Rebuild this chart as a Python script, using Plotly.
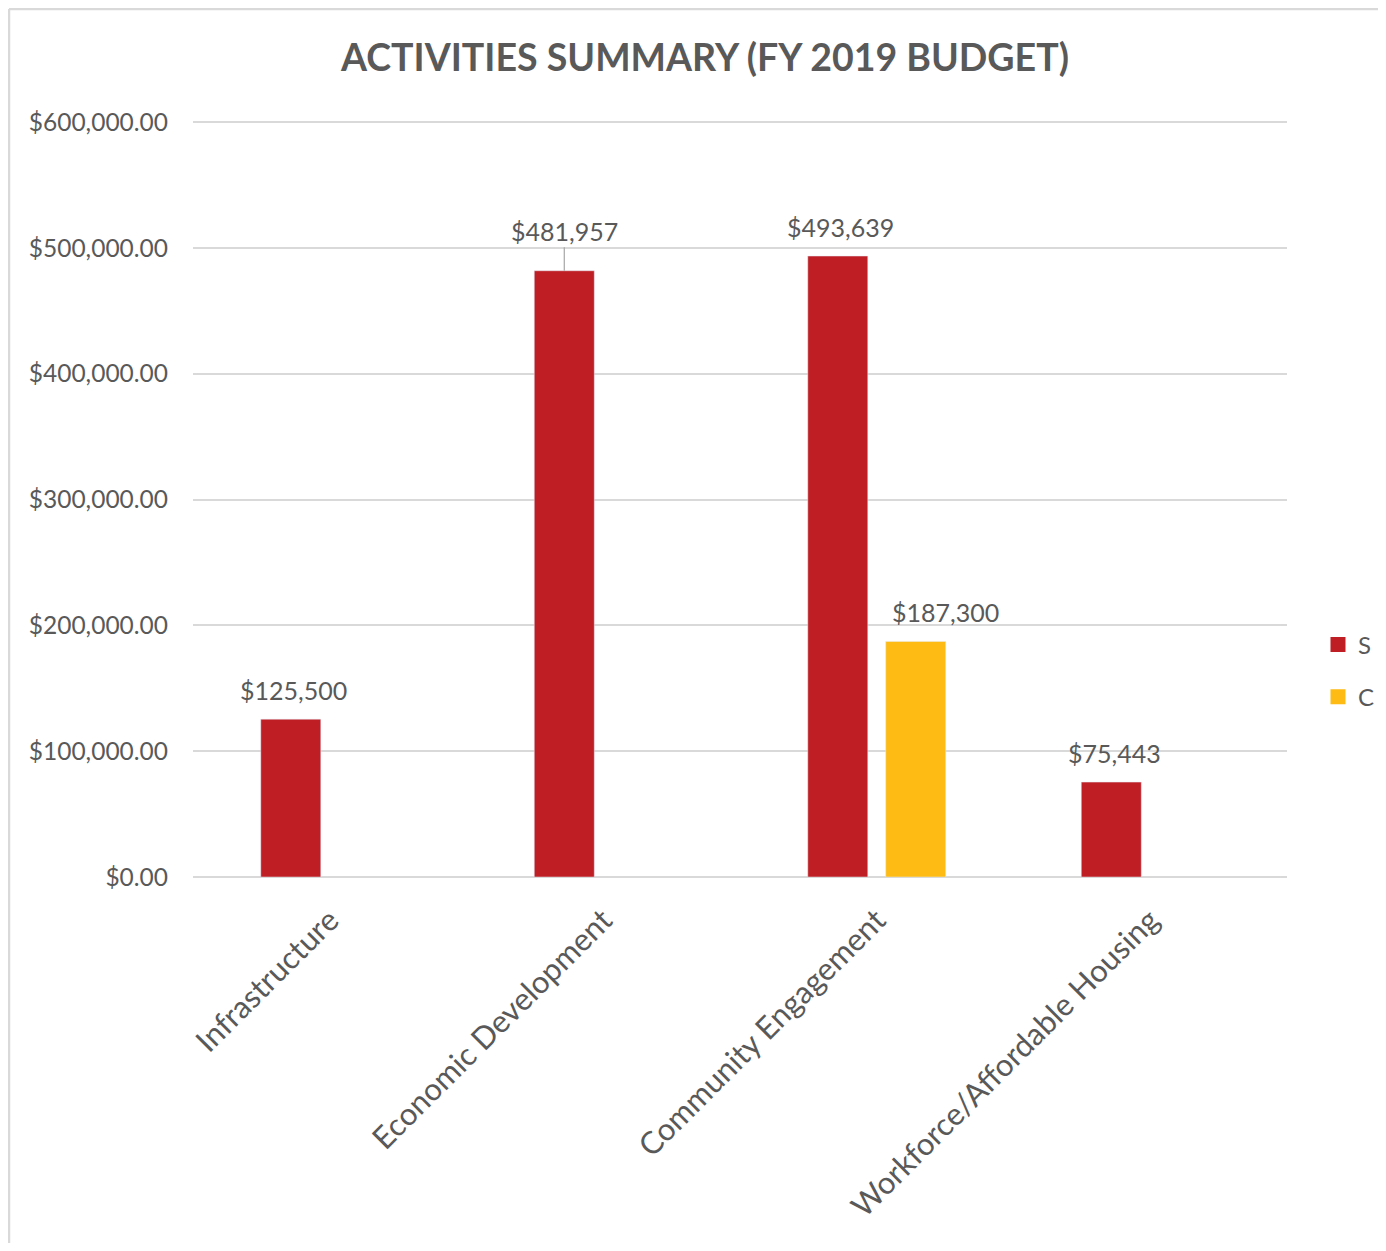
import plotly.graph_objects as go

categories = ["Infrastructure", "Economic Development", "Community Engagement", "Workforce/Affordable Housing"]
s_values = [125500, 481957, 493639, 75443]
c_values = [None, None, 187300, None]
y_ticks = [0, 100000, 200000, 300000, 400000, 500000, 600000]

RED = "#BE1E24"
YELLOW = "#FDBB13"
GRAY = "#595959"
BORDER = "#D9D9D9"
FONT = "Lato"

def fmt(v):
    return "${:,.0f}".format(v)

# figure geometry (page is offset 8px by the default body margin)
W, H = 1370, 1235
L, R, T, B = 185, 91, 113, 366
pw, ph = W - L - R, H - T - B
BARGAP, BARGROUPGAP = 0.43, 0.23
slot = pw / len(categories) * (1 - BARGAP) / 2
offset = slot / 2

fig = go.Figure()
fig.add_trace(go.Bar(name="S", x=categories, y=s_values, marker_color=RED, showlegend=False))
fig.add_trace(go.Bar(name="C", x=categories, y=c_values, marker_color=YELLOW, showlegend=False))
# legend entries with larger square swatches
for name, color in (("S", RED), ("C", YELLOW)):
    fig.add_trace(go.Scatter(name=name, x=[None], y=[None], mode="markers",
                             marker=dict(symbol="square", size=15, color=color),
                             legendgroup=name, showlegend=True, hoverinfo="skip"))

# data labels
for sign, values in ((-1, s_values), (1, c_values)):
    for cat, v in zip(categories, values):
        if v is None:
            continue
        extra = 30 if sign > 0 else 3
        if cat == "Economic Development":
            fig.add_annotation(x=cat, y=v, xref="x", yref="y", text=fmt(v),
                               xshift=sign * offset, showarrow=True, arrowhead=0,
                               arrowwidth=1.2, arrowcolor="#A6A6A6", ax=0, ay=-40,
                               standoff=0, startstandoff=0,
                               font=dict(size=25, color=GRAY, family=FONT))
        else:
            fig.add_annotation(x=cat, y=v, xref="x", yref="y", text=fmt(v),
                               xshift=sign * offset + extra, yshift=12, showarrow=False,
                               yanchor="bottom",
                               font=dict(size=25, color=GRAY, family=FONT))

fig.update_layout(
    width=W, height=H,
    margin=dict(l=L, r=R, t=T, b=B, autoexpand=False),
    paper_bgcolor="white", plot_bgcolor="white",
    barmode="group", bargap=BARGAP, bargroupgap=BARGROUPGAP,
    font=dict(family=FONT, color=GRAY),
    title=dict(text="<b>ACTIVITIES SUMMARY (FY 2019 BUDGET)</b>", x=697 / W, xanchor="center",
               y=1 - 50 / H, yanchor="middle", font=dict(size=37.5, color=GRAY, family=FONT)),
    legend=dict(x=(1310 - L) / pw, y=(ph - (663 - T)) / ph, xanchor="left", yanchor="middle",
                font=dict(size=24, color=GRAY, family=FONT), traceorder="grouped",
                tracegroupgap=18, itemwidth=30, bgcolor="rgba(0,0,0,0)"),
    showlegend=True,
)
fig.update_yaxes(range=[0, 601000], tickvals=y_ticks, tickformat="$,.2f",
                 showgrid=True, gridcolor=BORDER, gridwidth=1.5,
                 zeroline=True, zerolinecolor=BORDER, zerolinewidth=1.5,
                 showline=False, ticks="", ticklen=0, ticklabelstandoff=24,
                 tickfont=dict(size=24.5, color=GRAY, family=FONT))
fig.update_xaxes(tickangle=-45, showline=False, ticks="", ticklabelstandoff=18,
                 tickfont=dict(size=31, color=GRAY, family=FONT))

# chart-area border (top and left edges visible in the reference)
top_y = (ph + T - 1) / ph
left_x = (1 - L) / pw
fig.add_shape(type="line", xref="paper", yref="paper", x0=left_x, x1=(W + 10 - L) / pw,
              y0=top_y, y1=top_y, line=dict(color=BORDER, width=2.5), layer="below")
fig.add_shape(type="line", xref="paper", yref="paper", x0=left_x, x1=left_x,
              y0=-(B + 10) / ph, y1=top_y, line=dict(color=BORDER, width=2.5), layer="below")

fig.write_html("out.html")
